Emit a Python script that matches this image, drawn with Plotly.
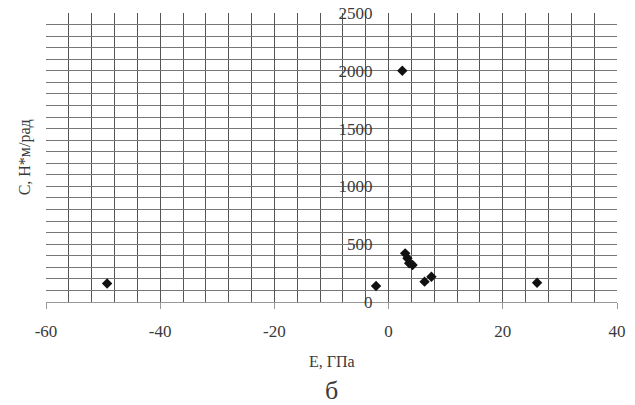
import plotly.graph_objects as go

# data
E_vals = [-49.3, 2.4, -2.2, 2.9, 3.3, 3.6, 4.2, 6.3, 7.5, 26.0]
C_vals = [160, 2000, 138, 421, 378, 335, 320, 176, 219, 167]

x_tick_vals = [-60, -40, -20, 0, 20, 40]
x_tick_text = ["-60", "-40", "-20", "0", "20", "40"]
y_tick_vals = [0, 500, 1000, 1500, 2000, 2500]
y_tick_text = ["0", "500", "1000", "1500", "2000", "2500"]

x_title = "E, ГПа"
y_title = "С, Н*м/рад"
caption = "б"

FONT = "Liberation Serif, Times New Roman, serif"
TXT = "#3a3a3a"

fig = go.Figure()
fig.add_trace(go.Scatter(
    x=E_vals, y=C_vals, mode="markers",
    marker=dict(symbol="diamond", size=8, color="#111111"),
    showlegend=False,
))

fig.update_layout(
    width=635, height=405,
    margin=dict(l=46, r=18, t=13, b=103),
    paper_bgcolor="white", plot_bgcolor="white",
    font=dict(family=FONT, size=17, color=TXT),
    xaxis=dict(
        range=[-60, 40], tickmode="array", tickvals=x_tick_vals, ticktext=x_tick_text,
        showgrid=True, gridcolor="#555555", gridwidth=1,
        minor=dict(dtick=4, tick0=-60, showgrid=True, gridcolor="#555555", gridwidth=1),
        ticks="outside", ticklen=6, tickcolor="#999999",
        showline=True, linecolor="#999999", linewidth=1,
        zeroline=False, ticklabelstandoff=8, automargin=False,
        tickfont=dict(family=FONT, size=17, color=TXT),
    ),
    yaxis=dict(
        range=[0, 2500], tickmode="array", tickvals=y_tick_vals, ticktext=y_tick_text,
        showgrid=True, gridcolor="#777777", gridwidth=1,
        minor=dict(dtick=100, tick0=0, showgrid=True, gridcolor="#777777", gridwidth=1),
        anchor="free", position=0.6,
        showline=False,
        ticks="", zeroline=False, ticklabelstandoff=16, automargin=False,
        tickfont=dict(family=FONT, size=17, color=TXT),
    ),
)

fig.add_annotation(text=x_title, xref="paper", yref="paper", x=0.5, y=-0.205,
                   showarrow=False, font=dict(family=FONT, size=16, color=TXT),
                   xanchor="center", yanchor="middle")
fig.add_annotation(text=caption, xref="paper", yref="paper", x=0.5, y=-0.305,
                   showarrow=False, font=dict(family=FONT, size=26, color=TXT),
                   xanchor="center", yanchor="middle")
fig.add_annotation(text=y_title, xref="paper", yref="paper", x=-0.037, y=0.5,
                   showarrow=False, textangle=-90,
                   font=dict(family=FONT, size=16, color=TXT),
                   xanchor="center", yanchor="middle")

fig.write_html("out.html")
